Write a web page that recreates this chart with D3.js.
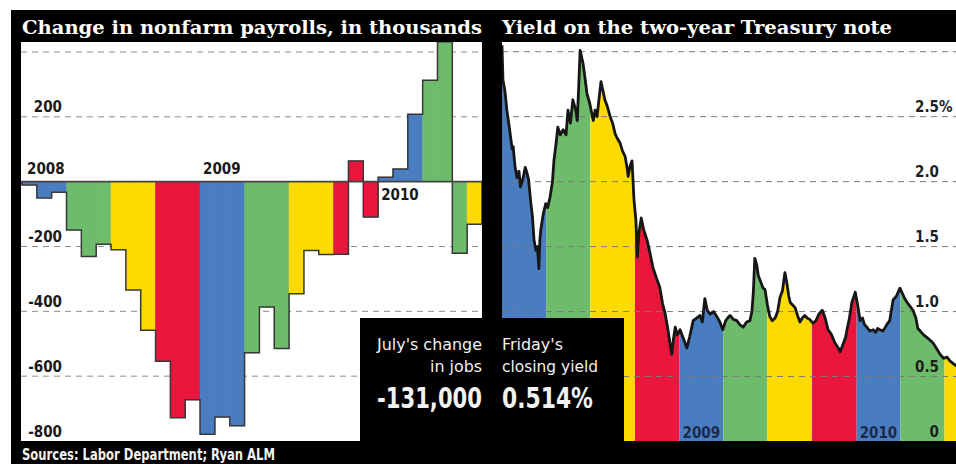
<!DOCTYPE html>
<html>
<head>
<meta charset="utf-8">
<script src="https://cdn.jsdelivr.net/npm/d3@7"></script>
<style>
html, body { margin: 0; padding: 0; background: #fff; }
svg { display: block; }
</style>
</head>
<body>
<svg width="956" height="464"></svg>
<script>
// monthly change in nonfarm payrolls, thousands, Jan 2008 - Jul 2010
const payrollValues = [
  -10, -50, -33, -149, -231, -193, -210, -334, -458, -554, -728, -673,
  -779, -726, -753, -528, -387, -515, -346, -212, -225, -224, 64, -109,
  14, 39, 208, 313, 432, -221, -131
];
const payrollTicks = [200, -200, -400, -600, -800];
const payrollGrid = [400, 200, -200, -400, -600];
const payrollYears = ["2008", "2009", "2010"];

// two-year Treasury yield, percent
const yieldDates = [
  "2008-01-01","2008-01-03","2008-01-07","2008-01-11","2008-01-16","2008-01-22","2008-01-24","2008-01-28",
  "2008-02-01","2008-02-05","2008-02-08","2008-02-13","2008-02-18","2008-02-22","2008-02-25","2008-02-29",
  "2008-03-04","2008-03-07","2008-03-11","2008-03-14","2008-03-17","2008-03-19","2008-03-21","2008-03-26","2008-03-31",
  "2008-04-04","2008-04-09","2008-04-14","2008-04-17","2008-04-21","2008-04-25","2008-04-30",
  "2008-05-06","2008-05-12","2008-05-16","2008-05-21","2008-05-26",
  "2008-06-01","2008-06-04","2008-06-07","2008-06-10","2008-06-13","2008-06-16","2008-06-20","2008-06-24","2008-06-30",
  "2008-07-07","2008-07-11","2008-07-15","2008-07-19","2008-07-23","2008-07-27","2008-07-31",
  "2008-08-05","2008-08-11","2008-08-16","2008-08-21","2008-08-26","2008-08-31",
  "2008-09-05","2008-09-11","2008-09-15","2008-09-17","2008-09-21","2008-09-25","2008-09-29",
  "2008-10-03","2008-10-06","2008-10-09","2008-10-14","2008-10-19","2008-10-26",
  "2008-11-01","2008-11-07","2008-11-14","2008-11-21","2008-11-27",
  "2008-12-02","2008-12-08","2008-12-12","2008-12-16","2008-12-19","2008-12-23","2008-12-27",
  "2009-01-02","2009-01-09","2009-01-16","2009-01-22","2009-01-29",
  "2009-02-05","2009-02-12","2009-02-17","2009-02-22","2009-02-27",
  "2009-03-05","2009-03-12","2009-03-19","2009-03-25","2009-03-31",
  "2009-04-06","2009-04-10","2009-04-15","2009-04-22","2009-04-29",
  "2009-05-05","2009-05-12","2009-05-19","2009-05-26","2009-05-30",
  "2009-06-02","2009-06-05","2009-06-09","2009-06-12","2009-06-16","2009-06-22","2009-06-26",
  "2009-07-01","2009-07-06","2009-07-11","2009-07-17","2009-07-22","2009-07-27",
  "2009-08-01","2009-08-06","2009-08-10","2009-08-14","2009-08-17","2009-08-22","2009-08-27",
  "2009-09-02","2009-09-06","2009-09-11","2009-09-16","2009-09-21","2009-09-26",
  "2009-10-03","2009-10-09","2009-10-15","2009-10-22","2009-10-28",
  "2009-11-03","2009-11-09","2009-11-17","2009-11-24","2009-11-28",
  "2009-12-04","2009-12-09","2009-12-12","2009-12-17","2009-12-22","2009-12-29",
  "2010-01-03","2010-01-08","2010-01-13","2010-01-17","2010-01-22","2010-01-28",
  "2010-02-04","2010-02-09","2010-02-13","2010-02-18","2010-02-24",
  "2010-03-01","2010-03-04","2010-03-10","2010-03-17","2010-03-24","2010-03-31",
  "2010-04-05","2010-04-10","2010-04-15","2010-04-21","2010-04-27",
  "2010-05-03","2010-05-07","2010-05-12","2010-05-19","2010-05-26",
  "2010-06-01","2010-06-07","2010-06-14","2010-06-22","2010-06-29",
  "2010-07-06","2010-07-12","2010-07-19","2010-07-26","2010-08-02","2010-08-06"
];
const yieldValues = [
  3.05, 2.78, 2.70, 2.55, 2.42, 2.25, 2.27, 2.11,
  2.03, 2.08, 1.96, 2.02, 2.11, 2.06, 2.01, 1.85,
  1.72, 1.55, 1.47, 1.50, 1.33, 1.55, 1.63, 1.75, 1.83,
  1.80, 1.88, 2.00, 2.16, 2.28, 2.42, 2.36,
  2.40, 2.36, 2.55, 2.45, 2.63,
  2.55, 2.47, 2.72, 3.01, 2.96, 2.91, 2.80, 2.68, 2.60,
  2.47, 2.55, 2.50, 2.64, 2.77, 2.70, 2.63,
  2.58, 2.50, 2.45, 2.37, 2.33, 2.30,
  2.24, 2.19, 2.10, 2.04, 2.12, 2.16, 1.86,
  1.70, 1.42, 1.60, 1.72, 1.63, 1.55,
  1.45, 1.34, 1.26, 1.19, 1.06,
  0.99, 0.86, 0.76, 0.67, 0.78, 0.88, 0.82,
  0.86, 0.79, 0.72, 0.81, 0.93,
  0.95, 0.97, 0.92, 1.10, 1.01,
  0.98, 1.00, 0.96, 0.92, 0.86,
  0.93, 0.95, 0.97, 0.94, 0.93,
  0.90, 0.88, 0.92, 0.93, 1.00,
  1.15, 1.41, 1.36, 1.28, 1.24, 1.18, 1.17,
  1.05, 0.96, 0.93, 0.95, 1.00, 1.11,
  1.16, 1.30, 1.22, 1.12, 1.07, 1.05, 1.03,
  0.96, 0.92, 0.95, 0.97, 0.95, 0.94,
  0.91, 0.93, 0.98, 1.01, 0.95,
  0.86, 0.83, 0.76, 0.72, 0.69,
  0.75, 0.80, 0.86, 0.95, 1.07, 1.15,
  1.05, 0.93, 0.95, 0.90, 0.88, 0.85,
  0.86, 0.84, 0.87, 0.86, 0.85,
  0.88, 0.90, 0.93, 1.09, 1.12, 1.18,
  1.14, 1.10, 1.07, 1.04, 1.01,
  0.95, 0.87, 0.85, 0.82, 0.80,
  0.78, 0.76, 0.72, 0.67, 0.64,
  0.65, 0.62, 0.60, 0.58, 0.55, 0.514
];
const yieldTicks = [2.5, 2.0, 1.5, 1.0, 0.5, 0];
const yieldGrid = [3.0, 2.5, 2.0, 1.5, 1.0, 0.5];

const quarterColors = ["#4a7dc0", "#6dbb6b", "#fedb00", "#e8173b"];

const condensed = "'Liberation Sans Narrow', 'DejaVu Sans Condensed', sans-serif";
const slab = "'DejaVu Serif', serif";

svg = d3.select("svg");

// black frame behind everything
svg.append("rect")
  .attr("x", 11).attr("y", 10)
  .attr("width", 945).attr("height", 454)
  .attr("fill", "#000");

leftBox = {x0: 21, x1: 482, top: 42, bottom: 441};
rightBox = {x0: 502, x1: 956, top: 42, bottom: 441};

defs = svg.append("defs");
[["clipLeft", leftBox], ["clipRight", rightBox]].forEach(function(c) {
  defs.append("clipPath").attr("id", c[0])
    .append("rect")
    .attr("x", c[1].x0).attr("y", c[1].top)
    .attr("width", c[1].x1 - c[1].x0).attr("height", c[1].bottom - c[1].top);
});

[leftBox, rightBox].forEach(function(b) {
  svg.append("rect")
    .attr("x", b.x0).attr("y", b.top)
    .attr("width", b.x1 - b.x0).attr("height", b.bottom - b.top)
    .attr("fill", "#fff");
});

// ---------- left: payrolls ----------
months = d3.timeMonth.range(new Date(2008, 0, 1), new Date(2010, 7, 1));

xBar = d3.scaleBand() // one band per month
  .domain(months)
  .range([22, leftBox.x1])
  .padding(0);

yPay = d3.scaleLinear()
  .domain([-800, 400])
  .range([441, 52]);

gl = svg.append("g").attr("clip-path", "url(#clipLeft)");

gl.selectAll("line.grid")
  .data(payrollGrid)
  .enter()
  .append("line")
  .attr("x1", leftBox.x0).attr("x2", leftBox.x1)
  .attr("y1", d => yPay(d)).attr("y2", d => yPay(d))
  .attr("stroke", "#8c8c8c")
  .attr("stroke-width", 1)
  .attr("stroke-dasharray", "6,5");

gl.selectAll("rect.bar")
  .data(payrollValues)
  .enter()
  .append("rect")
  .attr("x", (d, i) => xBar(months[i]))
  .attr("width", xBar.bandwidth())
  .attr("y", d => Math.min(yPay(d), yPay(0)))
  .attr("height", d => Math.abs(yPay(d) - yPay(0)))
  .attr("fill", (d, i) => quarterColors[Math.floor(months[i].getMonth() / 3)])
  .attr("stroke", (d, i) => quarterColors[Math.floor(months[i].getMonth() / 3)])
  .attr("stroke-width", 0.6);

// step outline along the bar ends
outline = [[xBar(months[0]), yPay(0)]];
payrollValues.forEach(function(v, i) {
  outline.push([xBar(months[i]), yPay(v)]);
  outline.push([xBar(months[i]) + xBar.bandwidth(), yPay(v)]);
});
outline.push([xBar(months[months.length - 1]) + xBar.bandwidth(), yPay(0)]);

gl.append("path")
  .attr("d", d3.line()(outline))
  .attr("fill", "none")
  .attr("stroke", "#383838")
  .attr("stroke-width", 1.5);

gl.append("line") // zero line
  .attr("x1", leftBox.x0).attr("x2", leftBox.x1)
  .attr("y1", yPay(0)).attr("y2", yPay(0))
  .attr("stroke", "#444")
  .attr("stroke-width", 1.6);

svg.selectAll("text.payTick")
  .data(payrollTicks)
  .enter()
  .append("text")
  .attr("x", 62)
  .attr("y", d => yPay(d) - 4.5)
  .attr("text-anchor", "end")
  .attr("font-family", condensed)
  .attr("font-weight", "bold")
  .attr("font-size", 15)
  .attr("fill", "#1a1a1a")
  .text(d => d);

svg.selectAll("text.payYear")
  .data(payrollYears)
  .enter()
  .append("text")
  .attr("x", (d, i) => xBar(new Date(+d, 0, 1)) + (i == 0 ? 5 : 3))
  .attr("y", (d, i) => i < 2 ? yPay(0) - 8 : yPay(0) + 18)
  .attr("font-family", condensed)
  .attr("font-weight", "bold")
  .attr("font-size", 15)
  .attr("fill", "#1a1a1a")
  .text(d => d);

// ---------- right: two-year yield ----------
parseDay = d3.timeParse("%Y-%m-%d");
yieldData = yieldDates.map((d, i) => ({date: parseDay(d), value: yieldValues[i]}));

xYield = d3.scaleTime()
  .domain([new Date(2008, 0, 1), new Date(2010, 7, 6)])
  .range([rightBox.x0, 962]);

yYield = d3.scaleLinear()
  .domain([0, 3])
  .range([441.5, 51.7]);

quarters = d3.timeMonth.every(3).range(new Date(2008, 0, 1), new Date(2010, 9, 1));

gr = svg.append("g").attr("clip-path", "url(#clipRight)");

area = d3.area()
  .x(d => xYield(d.date))
  .y0(yYield(0))
  .y1(d => yYield(d.value));

quarters.forEach(function(q, i) {
  next = d3.timeMonth.offset(q, 3);
  defs.append("clipPath").attr("id", "q" + i)
    .append("rect")
    .attr("x", xYield(q)).attr("y", rightBox.top)
    .attr("width", xYield(next) - xYield(q))
    .attr("height", rightBox.bottom - rightBox.top);
  gr.append("path")
    .datum(yieldData)
    .attr("clip-path", "url(#q" + i + ")")
    .attr("fill", quarterColors[Math.floor(q.getMonth() / 3)])
    .attr("d", area);
});

gr.selectAll("line.grid")
  .data(yieldGrid)
  .enter()
  .append("line")
  .attr("x1", rightBox.x0).attr("x2", rightBox.x1)
  .attr("y1", d => yYield(d)).attr("y2", d => yYield(d))
  .attr("stroke", "#7a7a7a")
  .attr("stroke-width", 1)
  .attr("stroke-dasharray", "6,5");

gr.append("path")
  .datum(yieldData)
  .attr("fill", "none")
  .attr("stroke", "#161616")
  .attr("stroke-width", 2.8)
  .attr("stroke-linejoin", "round")
  .attr("d", d3.line().x(d => xYield(d.date)).y(d => yYield(d.value)));

svg.selectAll("text.yTick")
  .data(yieldTicks)
  .enter()
  .append("text")
  .attr("x", 939)
  .attr("y", d => yYield(d) - 4.5)
  .attr("text-anchor", "end")
  .attr("font-family", condensed)
  .attr("font-weight", "bold")
  .attr("font-size", 15)
  .attr("fill", "#1f1f1f")
  .text(d => d == 0 ? "0" : d.toFixed(1));

svg.append("text") // percent sign on the top label
  .attr("x", 939)
  .attr("y", yYield(yieldTicks[0]) - 4.5)
  .attr("font-family", condensed)
  .attr("font-weight", "bold")
  .attr("font-size", 15)
  .attr("fill", "#1f1f1f")
  .text("%");

svg.selectAll("text.yYear")
  .data(["2009", "2010"])
  .enter()
  .append("text")
  .attr("x", d => xYield(new Date(+d, 0, 1)) + 3)
  .attr("y", 438)
  .attr("font-family", condensed)
  .attr("font-weight", "bold")
  .attr("font-size", 15)
  .attr("fill", "#1b2a4c")
  .text(d => d);

// ---------- titles, box, source ----------
svg.append("text")
  .attr("x", 22).attr("y", 33.5)
  .attr("font-family", slab).attr("font-weight", "bold").attr("font-size", 18.5)
  .attr("fill", "#fff")
  .attr("textLength", 460).attr("lengthAdjust", "spacingAndGlyphs")
  .text("Change in nonfarm payrolls, in thousands");

svg.append("text")
  .attr("x", 502).attr("y", 33.5)
  .attr("font-family", slab).attr("font-weight", "bold").attr("font-size", 18.5)
  .attr("fill", "#fff")
  .attr("textLength", 390).attr("lengthAdjust", "spacingAndGlyphs")
  .text("Yield on the two-year Treasury note");

svg.append("rect")
  .attr("x", 360).attr("y", 318)
  .attr("width", 264).attr("height", 146)
  .attr("fill", "#000");

boxText = [
  {t: "July's change", x: 482, y: 350, a: "end", s: 16.5, w: "normal", l: 105},
  {t: "in jobs", x: 482, y: 372, a: "end", s: 16.5, w: "normal", l: 52},
  {t: "-131,000", x: 482, y: 408, a: "end", s: 29, w: "bold", l: 105},
  {t: "Friday's", x: 502, y: 350, a: "start", s: 16.5, w: "normal", l: 61},
  {t: "closing yield", x: 502, y: 372, a: "start", s: 16.5, w: "normal", l: 96},
  {t: "0.514%", x: 502, y: 408, a: "start", s: 29, w: "bold", l: 91}
];
svg.selectAll("text.box")
  .data(boxText)
  .enter()
  .append("text")
  .attr("x", d => d.x).attr("y", d => d.y)
  .attr("text-anchor", d => d.a)
  .attr("font-family", condensed)
  .attr("font-weight", d => d.w)
  .attr("font-size", d => d.s)
  .attr("fill", "#f2f2f2")
  .attr("textLength", d => d.l).attr("lengthAdjust", "spacingAndGlyphs")
  .text(d => d.t);

svg.append("text")
  .attr("x", 22).attr("y", 460)
  .attr("font-family", condensed).attr("font-weight", "bold").attr("font-size", 15.5)
  .attr("fill", "#f2f2f2")
  .attr("textLength", 253).attr("lengthAdjust", "spacingAndGlyphs")
  .text("Sources: Labor Department; Ryan ALM");
</script>
</body>
</html>
